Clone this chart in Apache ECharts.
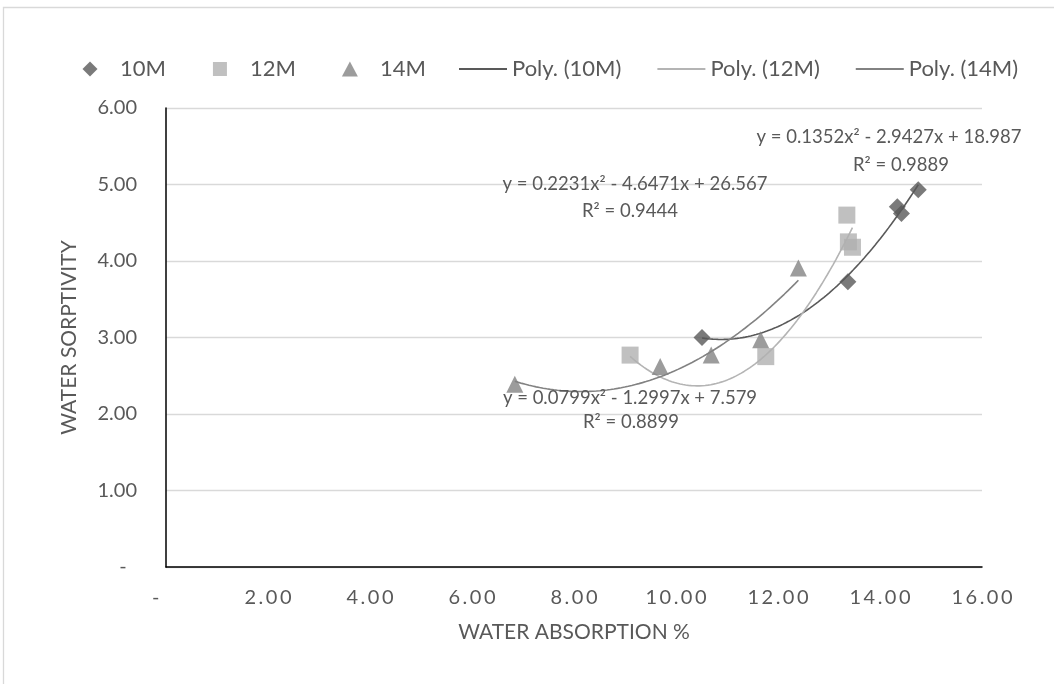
<!DOCTYPE html>
<html>
<head>
<meta charset="utf-8">
<script src="https://cdn.jsdelivr.net/npm/echarts@6/dist/echarts.min.js"></script>
<style>
  html, body { margin: 0; padding: 0; background: #fff; }
  #chart { width: 1054px; height: 684px; }
</style>
</head>
<body>
<div id="chart"></div>
<script>
// measured points (water absorption %, water sorptivity)
const data10M = [[10.51, 3.00], [13.37, 3.73], [14.34, 4.71], [14.42, 4.62], [14.75, 4.93]]
const data12M = [[9.10, 2.77], [11.76, 2.75], [13.35, 4.60], [13.38, 4.25], [13.46, 4.18]]
const data14M = [[6.84, 2.39], [9.69, 2.62], [10.69, 2.77], [11.66, 2.97], [12.40, 3.91]]

// poly order 2 coefficients as printed on the chart [a, b, c] -> a*x^2 + b*x + c
const coef10M = [0.1352, -2.9427, 18.987]
const coef12M = [0.2231, -4.6471, 26.567]
const coef14M = [0.0799, -1.2997, 7.579]

const xTicks = [0, 2, 4, 6, 8, 10, 12, 14, 16]
const yTicks = [0, 1, 2, 3, 4, 5, 6]

const textColor = '#595959'
const font = 'Lato, "DejaVu Sans", sans-serif'

// legend markers sit in the middle of a wide slot, like excel does it
const iconDiamond = 'path://M0,0M50,16M25,0.5L32.5,8L25,15.5L17.5,8Z'
const iconSquare = 'path://M0,0M50,16M18,1L32,1L32,15L18,15Z'
const iconTriangle = 'path://M0,0M50,16M25,0.5L33,15.5L17,15.5Z'

// trendline drawn over the x span of its own series
function trend(pts, c) {
  const xs = pts.map(p => p[0])
  const lo = Math.min(...xs)
  const hi = Math.max(...xs)
  const out = []
  const n = 80
  for (let i = 0; i <= n; i++) {
    const x = lo + (hi - lo) * i / n
    out.push([x, c[0] * x * x + c[1] * x + c[2]])
  }
  return out
}

// excel accounting style: zero shows as a dash
function fmtY(v) {
  return v === 0 ? '-  ' : v.toFixed(2)
}
function fmtX(v) {
  if (v === 0) return '-    '
  return v.toFixed(2).split('').join('\u2009')
}

const eqStyle = { fill: textColor, font: '18.5px ' + font, align: 'center', verticalAlign: 'middle' }

const chart = echarts.init(document.getElementById('chart'))
chart.setOption({
  animation: false,
  textStyle: { fontFamily: font },
  grid: { left: 166, right: 72, top: 108, bottom: 117 },
  legend: [{
    left: 60,
    top: 53,
    itemWidth: 50,
    itemHeight: 16,
    itemGap: 29,
    textStyle: { color: textColor, fontSize: 22, fontFamily: font },
    data: [
      { name: '10M', icon: iconDiamond },
      { name: '12M', icon: iconSquare },
      { name: '14M', icon: iconTriangle }
    ]
  }, {
    left: 454,
    top: 53,
    itemWidth: 48,
    itemHeight: 2,
    itemGap: 36,
    textStyle: { color: textColor, fontSize: 22, fontFamily: font },
    data: [
      { name: 'Poly. (10M)', icon: 'rect' },
      { name: 'Poly. (12M)', icon: 'rect' },
      { name: 'Poly. (14M)', icon: 'rect' }
    ]
  }],
  xAxis: {
    type: 'value',
    min: xTicks[0],
    max: xTicks[xTicks.length - 1],
    interval: 2,
    name: 'WATER ABSORPTION %',
    nameLocation: 'middle',
    nameGap: 55,
    nameTextStyle: { color: textColor, fontSize: 21, fontFamily: font },
    axisLine: { onZero: false, lineStyle: { color: '#000', width: 1.5 } },
    axisTick: { show: false },
    axisLabel: { color: textColor, fontSize: 20, margin: 21, formatter: fmtX },
    splitLine: { show: false }
  },
  yAxis: {
    type: 'value',
    min: yTicks[0],
    max: yTicks[yTicks.length - 1],
    interval: 1,
    name: 'WATER SORPTIVITY',
    nameLocation: 'middle',
    nameGap: 86,
    nameTextStyle: { color: textColor, fontSize: 21, fontFamily: font },
    axisLine: { show: true, lineStyle: { color: '#000', width: 1.5 } },
    axisTick: { show: false },
    axisLabel: { color: textColor, fontSize: 20, margin: 29, formatter: fmtY },
    splitLine: { lineStyle: { color: '#d9d9d9', width: 1.3 } }
  },
  series: [
    {
      name: 'Poly. (10M)', type: 'line', data: trend(data10M, coef10M),
      showSymbol: false, symbol: 'none', color: '#595959',
      lineStyle: { width: 1.6, color: '#595959' }, z: 2
    },
    {
      name: 'Poly. (12M)', type: 'line', data: trend(data12M, coef12M),
      showSymbol: false, symbol: 'none', color: '#b4b4b4',
      lineStyle: { width: 1.6, color: '#b4b4b4' }, z: 2
    },
    {
      name: 'Poly. (14M)', type: 'line', data: trend(data14M, coef14M),
      showSymbol: false, symbol: 'none', color: '#828282',
      lineStyle: { width: 1.6, color: '#828282' }, z: 2
    },
    {
      name: '10M', type: 'scatter', data: data10M, symbol: 'diamond',
      symbolSize: 17, itemStyle: { color: '#595959' }, z: 3
    },
    {
      name: '12M', type: 'scatter', data: data12M, symbol: 'rect',
      symbolSize: 17, itemStyle: { color: '#b0b0b0' }, z: 3
    },
    {
      name: '14M', type: 'scatter', data: data14M, symbol: 'triangle',
      symbolSize: 17, itemStyle: { color: '#838383' }, z: 3
    }
  ],
  graphic: [
    {
      type: 'rect', silent: true, z: -1,
      shape: { x: 3.5, y: 7.5, width: 1200, height: 1000 },
      style: { fill: null, stroke: '#d9d9d9', lineWidth: 1.3 }
    },
    { type: 'text', z: 10, style: Object.assign({ text: 'y = 0.1352x² - 2.9427x + 18.987', x: 889, y: 137 }, eqStyle) },
    { type: 'text', z: 10, style: Object.assign({ text: 'R² = 0.9889', x: 901, y: 165 }, eqStyle) },
    { type: 'text', z: 10, style: Object.assign({ text: 'y = 0.2231x² - 4.6471x + 26.567', x: 635, y: 184 }, eqStyle) },
    { type: 'text', z: 10, style: Object.assign({ text: 'R² = 0.9444', x: 630, y: 211 }, eqStyle) },
    { type: 'text', z: 10, style: Object.assign({ text: 'y = 0.0799x² - 1.2997x + 7.579', x: 630, y: 398 }, eqStyle) },
    { type: 'text', z: 10, style: Object.assign({ text: 'R² = 0.8899', x: 631, y: 422 }, eqStyle) }
  ]
})
</script>
</body>
</html>
